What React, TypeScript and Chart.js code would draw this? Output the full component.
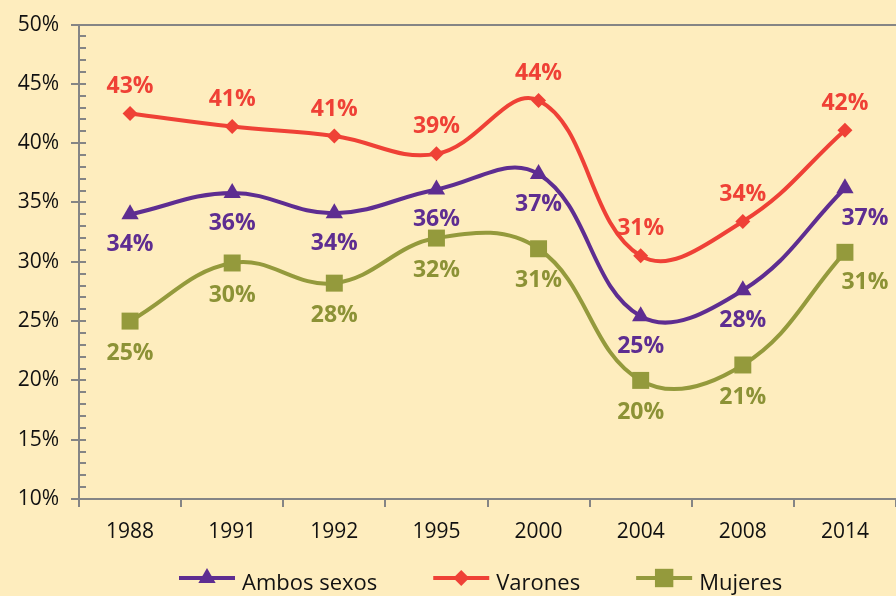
import { useEffect, useRef } from "react";
import { Chart, registerables } from "chart.js";
Chart.register(...registerables);

const years = ["1988", "1991", "1992", "1995", "2000", "2004", "2008", "2014"];
const ambos = [34.0, 35.8, 34.1, 36.1, 37.4, 25.4, 27.6, 36.2];
const varones = [42.5, 41.4, 40.6, 39.1, 43.6, 30.5, 33.4, 41.1];
const mujeres = [25.0, 29.9, 28.2, 32.0, 31.1, 20.0, 21.3, 30.8];
const ambosLabels = ["34%", "36%", "34%", "36%", "37%", "25%", "28%", "37%"];
const varonesLabels = ["43%", "41%", "41%", "39%", "44%", "31%", "34%", "42%"];
const mujeresLabels = ["25%", "30%", "28%", "32%", "31%", "20%", "21%", "31%"];
const seriesNames = ["Ambos sexos", "Varones", "Mujeres"];

const PURPLE = "#5E2D91";
const RED = "#EF4136";
const OLIVE = "#949A3C";
const OLIVE_TXT = "#8C9236";
const GREY = "#858585";
const BG = "#FEEDBE";
const FONT = "'Open Sans', sans-serif";

function drawMarker(ctx: CanvasRenderingContext2D, style: string, r: number, x: number, y: number, color: string) {
  ctx.save();
  ctx.fillStyle = color;
  ctx.beginPath();
  if (style === "triangle") {
    ctx.moveTo(x, y - r);
    ctx.lineTo(x + r * 0.866, y + r * 0.5);
    ctx.lineTo(x - r * 0.866, y + r * 0.5);
  } else if (style === "rectRot") {
    ctx.moveTo(x, y - r);
    ctx.lineTo(x + r, y);
    ctx.lineTo(x, y + r);
    ctx.lineTo(x - r, y);
  } else {
    const s = r * Math.SQRT1_2;
    ctx.rect(x - s, y - s, 2 * s, 2 * s);
  }
  ctx.closePath();
  ctx.fill();
  ctx.restore();
}

const minorTicks = {
  id: "minorTicks",
  afterDraw(chart: any) {
    const y = chart.scales.y;
    const ctx = chart.ctx;
    const left = chart.chartArea.left;
    ctx.save();
    ctx.strokeStyle = GREY;
    ctx.lineWidth = 2;
    for (let v = 11; v < 50; v++) {
      const py = Math.round(y.getPixelForValue(v));
      ctx.beginPath();
      ctx.moveTo(left, py);
      ctx.lineTo(left + 7, py);
      ctx.stroke();
    }
    ctx.restore();
  },
};

const dataLabels = {
  id: "dataLabels",
  afterDatasetsDraw(chart: any) {
    const ctx = chart.ctx;
    const sets = [
      { labels: ambosLabels, color: PURPLE, dy: 30 },
      { labels: varonesLabels, color: RED, dy: -27 },
      { labels: mujeresLabels, color: OLIVE_TXT, dy: 32 },
    ];
    ctx.save();
    ctx.font = `bold 23px ${FONT}`;
    ctx.textAlign = "center";
    ctx.textBaseline = "middle";
    sets.forEach((s, di) => {
      const meta = chart.getDatasetMeta(di);
      meta.data.forEach((pt: any, i: number) => {
        let dx = 0;
        let dy = s.dy;
        if (i === meta.data.length - 1 && di !== 1) {
          dx = 20;
          dy = 30;
        }
        ctx.fillStyle = s.color;
        ctx.fillText(s.labels[i], pt.x + dx, pt.y + dy);
      });
    });
    ctx.restore();
  },
};

const customLegend = {
  id: "customLegend",
  afterDraw(chart: any) {
    const ctx = chart.ctx;
    const items = [
      { name: seriesNames[0], color: PURPLE, style: "triangle", r: 10 },
      { name: seriesNames[1], color: RED, style: "rectRot", r: 8 },
      { name: seriesNames[2], color: OLIVE, style: "rect", r: 13 },
    ];
    const y = 578;
    let x = 179;
    ctx.save();
    ctx.font = `22px ${FONT}`;
    ctx.textBaseline = "alphabetic";
    items.forEach((it) => {
      ctx.strokeStyle = it.color;
      ctx.lineWidth = 4;
      ctx.beginPath();
      ctx.moveTo(x, y);
      ctx.lineTo(x + 56, y);
      ctx.stroke();
      drawMarker(ctx, it.style, it.r, x + 28, y, it.color);
      ctx.fillStyle = "#111";
      ctx.textAlign = "left";
      ctx.fillText(it.name, x + 63, y + 12);
      x += 63 + ctx.measureText(it.name).width + 56;
    });
    ctx.restore();
  },
};

export default function App() {
  const ref = useRef<HTMLCanvasElement | null>(null);
  useEffect(() => {
    if (!ref.current) return;
    const mk = (label: string, data: number[], color: string, style: string, r: number) => ({
      label,
      data,
      borderColor: color,
      backgroundColor: color,
      borderWidth: 4,
      pointStyle: style,
      pointRadius: r,
      pointHoverRadius: r,
      pointBorderWidth: 0,
      pointBackgroundColor: color,
      tension: 0.4,
      fill: false,
      clip: false,
    });
    const chart = new Chart(ref.current, {
      type: "line",
      data: {
        labels: years,
        datasets: [
          mk(seriesNames[0], ambos, PURPLE, "triangle", 10),
          mk(seriesNames[1], varones, RED, "rectRot", 7.5),
          mk(seriesNames[2], mujeres, OLIVE, "rect", 12),
        ] as any,
      },
      options: {
        responsive: false,
        animation: false,
        layout: { autoPadding: false, padding: { top: 23, left: 0, right: 0, bottom: 0 } },
        plugins: { legend: { display: false }, tooltip: { enabled: false } },
        scales: {
          x: {
            offset: true,
            grid: {
              offset: true,
              drawOnChartArea: false,
              tickLength: 8,
              tickColor: GREY,
              lineWidth: 2,
            },
            border: { color: GREY, width: 2 },
            ticks: { color: "#111", font: { family: FONT, size: 21 }, padding: 12 },
            afterFit(s: any) {
              s.height = 97;
              s.paddingLeft = 0;
              s.paddingRight = 0;
            },
          },
          y: {
            min: 10,
            max: 50,
            ticks: {
              stepSize: 5,
              color: "#111",
              font: { family: FONT, size: 21 },
              padding: 12,
              callback: (v: any) => v + "%",
            },
            grid: {
              color: (c: any) => (c.tick && c.tick.value === 50 ? GREY : "rgba(0,0,0,0)"),
              tickColor: GREY,
              tickLength: 8,
              lineWidth: 2,
            },
            border: { color: GREY, width: 2 },
            afterFit(s: any) {
              s.width = 79;
            },
          },
        },
      },
      plugins: [minorTicks, dataLabels, customLegend],
    });
    return () => chart.destroy();
  }, []);
  return (
    <div style={{ position: "fixed", left: 0, top: 0, width: 896, height: 596, background: BG }}>
      <canvas ref={ref} width={896} height={596} style={{ display: "block" }} />
    </div>
  );
}
